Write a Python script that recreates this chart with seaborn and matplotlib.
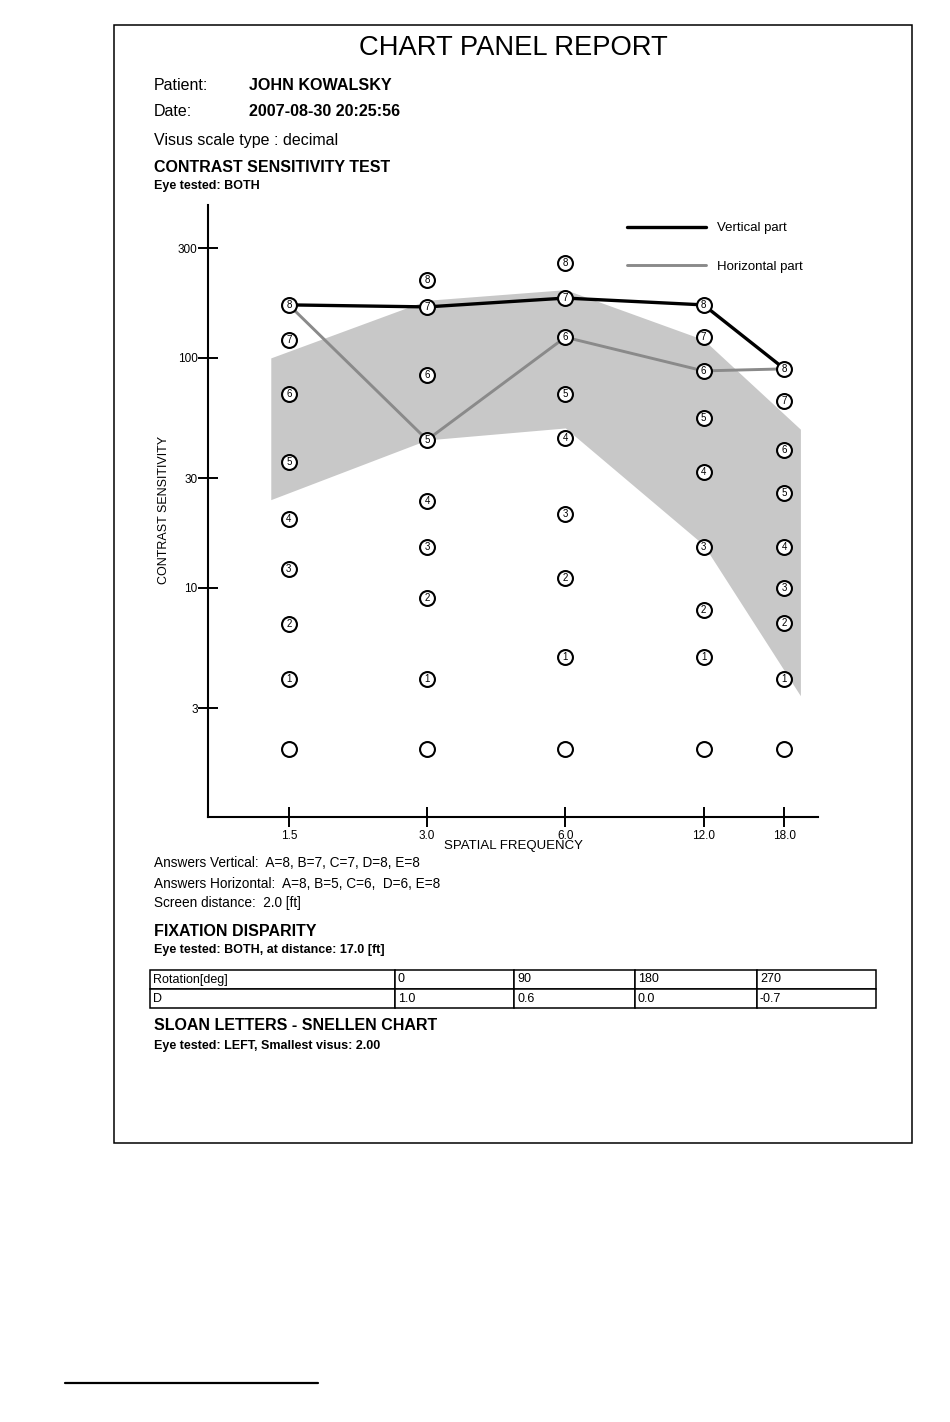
import matplotlib
matplotlib.use("Agg")
import matplotlib.pyplot as plt
from matplotlib.lines import Line2D
from matplotlib.patches import Rectangle
import seaborn as sns
import pandas as pd

# spatial frequencies of the five columns (A..E)
freqs = [1.5, 3.0, 6.0, 12.0, 18.0]
freq_labels = ["1.5", "3.0", "6.0", "12.0", "18.0"]

# contrast sensitivity of patch 0..8 in every column
levels_a = [2.0, 4.0, 7.0, 12.1, 20.0, 35.3, 70.0, 120.0, 170.0]
levels_b = [2.0, 4.0, 9.05, 15.1, 23.9, 44.0, 84.3, 166.6, 218.0]
levels_c = [2.0, 5.0, 11.05, 21.0, 44.9, 70.0, 123.0, 182.0, 259.0]
levels_d = [2.0, 5.0, 8.0, 15.1, 31.9, 54.8, 87.8, 123.0, 170.0]
levels_e = [2.0, 4.0, 7.05, 10.0, 15.1, 25.9, 39.8, 65.0, 89.6]

answers_vertical = [8, 7, 7, 8, 8]
answers_horizontal = [8, 5, 6, 6, 8]

# normal range (grey band)
band_x = [1.37, 3.0, 6.0, 12.0, 19.5]
band_high = [100.0, 178.0, 198.0, 120.0, 49.0]
band_low = [24.2, 44.0, 49.6, 15.4, 3.4]

y_ticks = [3, 10, 30, 100, 300]

rotation_deg = ["0", "90", "180", "270"]
disparity_d = ["1.0", "0.6", "0.0", "-0.7"]

W, H = 950, 1422


def fx(x):
    return x / W


def fy(y):
    return 1 - y / H


sns.set_style("white")
plt.rcParams["font.family"] = ["Liberation Sans", "DejaVu Sans"]
plt.rcParams["text.color"] = "black"
plt.rcParams["axes.labelcolor"] = "black"
plt.rcParams["xtick.color"] = "black"
plt.rcParams["ytick.color"] = "black"

fig = plt.figure(figsize=(9.5, 14.22), dpi=100)

# page frame and footnote rule
fig.add_artist(Rectangle((fx(114), fy(1143)), fx(912 - 114), (1143 - 25) / H,
                         transform=fig.transFigure, fill=False, lw=1.1, edgecolor="black"))
fig.add_artist(Line2D([fx(65), fx(318)], [fy(1383), fy(1383)],
                      transform=fig.transFigure, color="black", lw=1.6))

# header texts
fig.text(fx(513), fy(48), "CHART PANEL REPORT", ha="center", va="center", fontsize=19.7)
fig.text(fx(154), fy(86), "Patient:", va="center", fontsize=11.5)
fig.text(fx(249), fy(86), "JOHN KOWALSKY", va="center", fontsize=11.6, fontweight="bold")
fig.text(fx(154), fy(112), "Date:", va="center", fontsize=11.5)
fig.text(fx(249), fy(112), "2007-08-30 20:25:56", va="center", fontsize=11.6, fontweight="bold")
fig.text(fx(154), fy(141), "Visus scale type : decimal", va="center", fontsize=11.5)
fig.text(fx(154), fy(167), "CONTRAST SENSITIVITY TEST", va="center", fontsize=11.5, fontweight="bold")
fig.text(fx(154), fy(186), "Eye tested: BOTH", va="center", fontsize=9, fontweight="bold")

# contrast sensitivity chart
ax = fig.add_axes([fx(208), fy(817), fx(818 - 208), (817 - 205) / H])

ax.fill_between(band_x, band_low, band_high, color="#c8c8c8", lw=0, zorder=1)

columns = [levels_a, levels_b, levels_c, levels_d, levels_e]
rows = []
for f, col in zip(freqs, columns):
    for lvl, v in enumerate(col):
        rows.append({"freq": f, "value": v, "level": lvl})
marks = pd.DataFrame(rows)

vert_vals = [col[a] for col, a in zip(columns, answers_vertical)]
hor_vals = [col[a] for col, a in zip(columns, answers_horizontal)]

sns.lineplot(x=freqs, y=vert_vals, color="black", linewidth=2.4,
             label="Vertical part", ax=ax, zorder=3)
sns.lineplot(x=freqs, y=hor_vals, color="#8a8a8a", linewidth=2.1,
             label="Horizontal part", ax=ax, zorder=3)

sns.scatterplot(data=marks, x="freq", y="value", s=115, color="white",
                edgecolor="black", linewidth=1.5, zorder=4, legend=False, ax=ax)
for _, r in marks.iterrows():
    if r["level"] > 0:
        ax.text(r["freq"], r["value"], str(int(r["level"])), ha="center", va="center",
                fontsize=7, zorder=5)

ax.set_xscale("log")
ax.set_yscale("log")
ax.set_xlim(1.0, 21.3)
ax.set_ylim(1.01, 462)
ax.set_xticks(freqs, freq_labels)
ax.set_yticks(y_ticks, [str(t) for t in y_ticks])
ax.minorticks_off()
ax.tick_params(bottom=True, left=True, direction="inout", length=14, width=1.4,
               labelsize=8.5)
ax.tick_params(axis="x", pad=2.5)
ax.tick_params(axis="y", pad=0.5)

for s in ["top", "right"]:
    ax.spines[s].set_visible(False)
for s in ["left", "bottom"]:
    ax.spines[s].set_linewidth(1.5)
    ax.spines[s].set_color("black")

ax.set_xlabel("SPATIAL FREQUENCY", fontsize=9.5)
ax.set_ylabel("CONTRAST SENSITIVITY", fontsize=9)
ax.xaxis.set_label_coords(0.5, -0.037)
ax.yaxis.set_label_coords(-0.062, 0.502)

ax.legend(loc="upper left", bbox_to_anchor=(0.687, 0.972), frameon=False,
          fontsize=9.5, handlelength=6.0, handletextpad=0.85, labelspacing=2.0,
          borderpad=0, borderaxespad=0)

# answers and other sections
fig.text(fx(154), fy(863), "Answers Vertical:  A=8, B=7, C=7, D=8, E=8", va="center", fontsize=9.8)
fig.text(fx(154), fy(884), "Answers Horizontal:  A=8, B=5, C=6,  D=6, E=8", va="center", fontsize=9.8)
fig.text(fx(154), fy(903), "Screen distance:  2.0 [ft]", va="center", fontsize=9.8)
fig.text(fx(154), fy(931), "FIXATION DISPARITY", va="center", fontsize=11.5, fontweight="bold")
fig.text(fx(154), fy(950), "Eye tested: BOTH, at distance: 17.0 [ft]", va="center",
         fontsize=9, fontweight="bold")

tax = fig.add_axes([fx(150), fy(1008), fx(876 - 150), (1008 - 970) / H])
tax.axis("off")
col_px = [245, 119, 121, 122, 119]
tbl = tax.table(cellText=[["Rotation[deg]"] + rotation_deg, ["D"] + disparity_d],
                colWidths=[c / sum(col_px) for c in col_px], cellLoc="left",
                bbox=[0, 0, 1, 1])
tbl.auto_set_font_size(False)
for (r, c), cell in tbl.get_celld().items():
    cell.set_linewidth(1.1)
    cell.set_fontsize(9)
    cell.PAD = 3.0 / col_px[c]

fig.text(fx(154), fy(1026), "SLOAN LETTERS - SNELLEN CHART", va="center", fontsize=11.5, fontweight="bold")
fig.text(fx(154), fy(1046), "Eye tested: LEFT, Smallest visus: 2.00", va="center",
         fontsize=9, fontweight="bold")

fig.savefig("out.png", dpi=100)
